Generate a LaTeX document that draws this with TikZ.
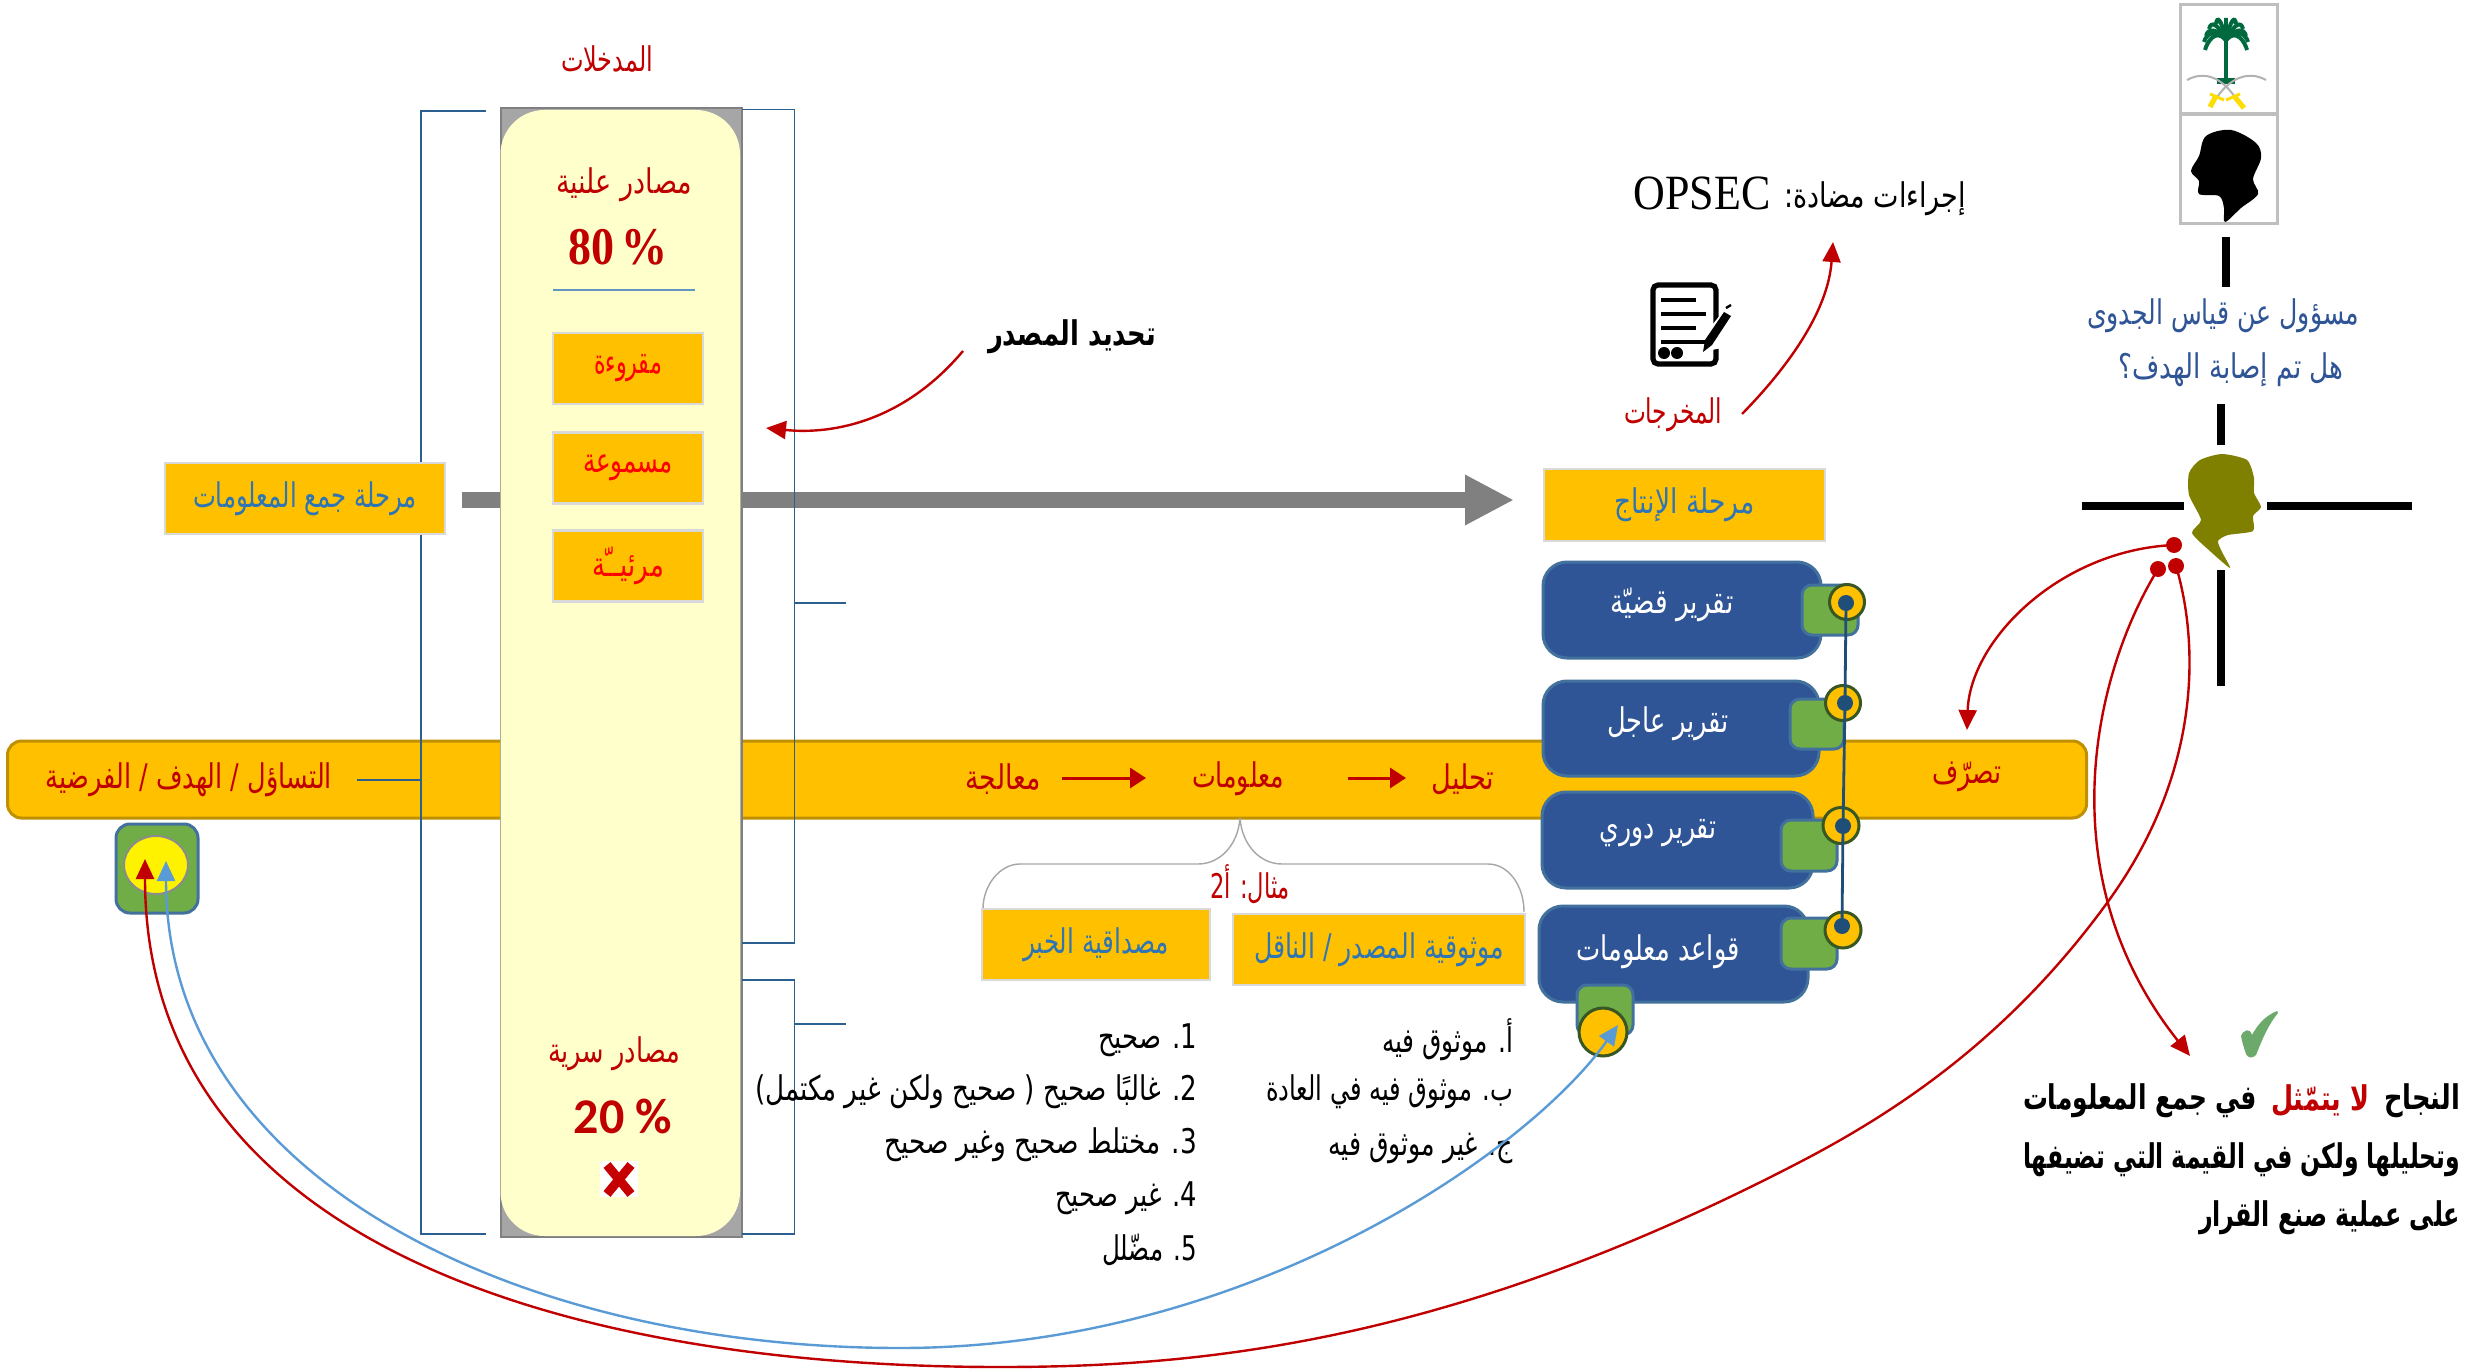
\documentclass[tikz,border=0pt]{standalone}
\usepackage{fontspec}
\usepackage{graphicx}
\usetikzlibrary{arrows.meta,shapes.geometric}
\TeXXeTstate=1
\newfontfamily\arabicfont[Script=Arabic]{DejaVu Sans}
\newfontfamily\timesf{Liberation Serif}
\newfontfamily\carlf{Carlito}
\definecolor{amber}{HTML}{FFC000}
\definecolor{amberedge}{HTML}{BF9000}
\definecolor{dred}{HTML}{C00000}
\definecolor{lblue}{HTML}{2E75B6}
\definecolor{navy}{HTML}{2F5597}
\definecolor{navyedge}{HTML}{41719C}
\definecolor{bracketc}{HTML}{2A5F8F}
\definecolor{dot}{HTML}{1F4E79}
\definecolor{tabg}{HTML}{70AD47}
\definecolor{ringg}{HTML}{385723}
\definecolor{cream}{HTML}{FFFFCC}
\definecolor{skyb}{HTML}{5B9BD5}
\definecolor{palm}{HTML}{00693E}
\definecolor{olivehead}{HTML}{808000}
\definecolor{tick}{HTML}{6BAA6B}
\newsavebox\arbox
\newdimen\artmp
% width in px, font size in pt, text
\newcommand\AR[3]{\begingroup\fontsize{#2}{#2}\arabicfont\sbox\arbox{#3}\artmp=\wd\arbox\pgfmathsetmacro\xsc{#1*0.5/\artmp}\scalebox{\xsc}[1]{\usebox\arbox}\endgroup}
\tikzset{
 sz/.style 2 args={minimum width=#1*0.5pt,minimum height=#2*0.5pt},
 lbl/.style={inner sep=0pt,outer sep=0pt},
 ybox/.style={draw=black!15,line width=1.3pt,fill=amber,inner sep=0pt,outer sep=0pt},
 report/.style={draw=navyedge,line width=1.5pt,fill=navy,rounded corners=12pt,inner sep=0pt},
 tab/.style={draw=navyedge,line width=1.5pt,fill=tabg,rounded corners=5pt,inner sep=0pt},
 ring/.style={circle,draw=ringg,line width=1.5pt,fill=amber,inner sep=0pt,outer sep=0pt},
 hub/.style={circle,fill=dot,inner sep=0pt,minimum size=8pt,outer sep=0pt},
 bracket/.style={draw=bracketc,line width=0.9pt},
 redarrow/.style={draw=dred,line width=1.2pt,-{Triangle[length=10pt,width=9pt]}},
 reddot/.style={circle,fill=dred,inner sep=0pt,minimum size=8pt,outer sep=0pt},
 cross/.style={draw=black,line width=3.8pt},
 picframe/.style={draw=black!25,line width=1.5pt,fill=white,inner sep=0pt},
}
\begin{document}
\begin{tikzpicture}[x=0.5pt,y=-0.5pt]
\useasboundingbox (0,0) rectangle (2479,1369);
\fill[white] (0,0) rectangle (2479,1369);

% band
\node[draw=amberedge,line width=1.5pt,fill=amber,rounded corners=7pt,sz={2079}{77},inner sep=0pt] (band) at (1047,779.5) {};

% gray arrow
\coordinate (gs) at (462,500); \coordinate (ge) at (1514,500);
\draw[draw=black!50,line width=8pt,-{Triangle[length=24.5pt,width=23.5pt]}] (gs) -- (ge);

% column
\node[draw=black!50,line width=1pt,fill=black!35,sz={241}{1128},inner sep=0pt] (colback) at (621,672.5) {};
\fill[cream,rounded corners=22pt] (500.5,110) rectangle (740,1236);

% brackets
\draw[bracket] (486,111) -- (421,111) -- (421,1234) -- (486,1234);
\coordinate (lt1) at (357,780); \coordinate (lt2) at (421,780);
\draw[bracket] (lt1) -- (lt2);
\draw[bracket] (742,109.5) -- (794.5,109.5) -- (794.5,943) -- (742,943);
\coordinate (rt1) at (794.5,603); \coordinate (rt2) at (846,603);
\draw[bracket] (rt1) -- (rt2);
\draw[bracket] (742,980) -- (794.5,980) -- (794.5,1234) -- (742,1234);
\coordinate (rt3) at (794.5,1024); \coordinate (rt4) at (846,1024);
\draw[bracket] (rt3) -- (rt4);

% left stage box
\node[ybox,sz={280}{71},text=lblue] (collect) at (305,498.5) {\AR{224}{17}{\beginR مرحلة جمع المعلومات\endR}};

% column text
\node[lbl,text=dred] (inputs) at (607,59) {\AR{92}{17}{\beginR المدخلات\endR}};
\node[lbl,text=dred] (open) at (624,185) {\AR{136}{17}{\beginR مصادر علنية\endR}};
\node[lbl,text=dred,font=\timesf\bfseries\fontsize{23}{23}\selectfont] (p80) at (618,247) {\scalebox{1}[1.15]{80\,\%}};
\coordinate (u1) at (553,290); \coordinate (u2) at (695,290);
\draw[draw=skyb!80!gray,line width=0.8pt] (u1) -- (u2);
\node[ybox,sz={150}{71},text=red] (read) at (628,368.5) {\raisebox{-3pt}{\AR{68}{17}{\beginR مقروءة\endR}}};
\node[ybox,sz={150}{71},text=red] (heard) at (628,468) {\AR{90}{17}{\beginR مسموعة\endR}};
\node[ybox,sz={150}{71},text=red] (seen) at (628,566) {\AR{72}{17}{\beginR مرئيــّة\endR}};
\node[lbl,text=dred] (secret) at (614,1054) {\AR{132}{17}{\beginR مصادر سرية\endR}};
\node[lbl,text=dred,font=\carlf\bfseries\fontsize{25}{25}\selectfont] (p20) at (623,1116) {20 \%};
\fill[white] (600,1161) rectangle (638,1197);
\draw[draw=dred!90!red,line width=4.5pt] (607,1165) -- (631,1194);
\draw[draw=dred!90!red,line width=4.5pt] (631,1165) -- (607,1194);

% band text
\node[lbl,text=dred] (q) at (189,780) {\AR{286}{17}{\beginR التساؤل / الهدف / الفرضية\endR}};
\node[lbl,text=dred] (proc) at (1003,779) {\AR{75}{17}{\beginR معالجة\endR}};
\node[lbl,text=dred] (info) at (1238,779) {\AR{92}{17}{\beginR معلومات\endR}};
\node[lbl,text=dred] (anal) at (1463,779) {\AR{63}{17}{\beginR تحليل\endR}};
\node[lbl,text=dred] (act) at (1967,777) {\AR{69}{17}{\beginR تصرّف\endR}};
\coordinate (a1s) at (1062,778); \coordinate (a1e) at (1146,778);
\coordinate (a2s) at (1348,778); \coordinate (a2e) at (1406,778);
\draw[draw=dred,line width=1.5pt,-{Triangle[length=8pt,width=10pt]}] (a1s) -- (a1e);
\draw[draw=dred,line width=1.5pt,-{Triangle[length=8pt,width=10pt]}] (a2s) -- (a2e);

% target
\node[draw=navyedge,line width=1.5pt,fill=tabg,rounded corners=7pt,sz={82}{89},inner sep=0pt] (goal) at (157,868.5) {};
\node[ellipse,draw=black!45,line width=1pt,fill=yellow,sz={64}{58},inner sep=0pt] (bull) at (156,865) {};

% brace and lower boxes
\coordinate (bt) at (1240,818);
\coordinate (bl) at (983,909); \coordinate (br) at (1524,912);
\draw[draw=black!35,line width=0.7pt] (bt) .. controls (1238,845) and (1220,864) .. (1198,864) -- (1020,864) .. controls (1000,864) and (983,885) .. (bl);
\draw[draw=black!35,line width=0.7pt] (bt) .. controls (1242,845) and (1260,864) .. (1282,864) -- (1488,864) .. controls (1508,864) and (1524,885) .. (br);
\node[lbl,text=dred] (ex) at (1250,884) {\AR{80}{17}{\beginR مثال: أ\beginL 2\endL\endR}};
\node[ybox,sz={228}{71},text=lblue] (cred) at (1096,944.5) {\AR{146}{17}{\beginR مصداقية الخبر\endR}};
\node[ybox,sz={292}{71},text=lblue] (rel) at (1379,949.5) {\AR{250}{17}{\beginR موثوقية المصدر / الناقل\endR}};

% lists
\node[lbl,anchor=east] (r1) at (1513,1040) {\AR{131}{17}{\beginR أ. موثوق فيه\endR}};
\node[lbl,anchor=east] (r2) at (1513,1092) {\AR{247}{17}{\beginR ب. موثوق فيه في العادة\endR}};
\node[lbl,anchor=east] (r3) at (1513,1148) {\AR{185}{17}{\beginR ج. غير موثوق فيه\endR}};
\node[lbl,anchor=east] (l1) at (1197,1040) {\AR{99}{17}{\beginR\beginL 1\endL. صحيح\endR}};
\node[lbl,anchor=east] (l2) at (1197,1092) {\AR{442}{17}{\beginR\beginL 2\endL. غالبًا صحيح ( صحيح ولكن غير مكتمل)\endR}};
\node[lbl,anchor=east] (l3) at (1197,1145) {\AR{313}{17}{\beginR\beginL 3\endL. مختلط صحيح وغير صحيح\endR}};
\node[lbl,anchor=east] (l4) at (1197,1198) {\AR{142}{17}{\beginR\beginL 4\endL. غير صحيح\endR}};
\node[lbl,anchor=east] (l5) at (1197,1250) {\AR{95}{17}{\beginR\beginL 5\endL. مضّلل\endR}};

% production
\node[ybox,sz={281}{72},text=lblue] (prod) at (1684.5,505) {\AR{140}{17}{\beginR مرحلة الإنتاج\endR}};
\node[lbl,text=dred] (outs) at (1673,415) {\AR{98}{17}{\beginR المخرجات\endR}};
\node[lbl,font=\timesf\fontsize{22}{22}\selectfont] (opsec) at (1702,193) {\scalebox{1}[1.12]{OPSEC}};
\node[lbl] (counter) at (1875,199) {\AR{182}{17}{\beginR إجراءات مضادة:\endR}};
\coordinate (oa) at (1742,414); \coordinate (ob) at (1833,242);
\draw[redarrow] (oa) .. controls (1790,365) and (1828,310) .. (ob);

% document icon
\draw[draw=black,line width=2.6pt,rounded corners=2.5pt,fill=white] (1653,285) rectangle (1716,364);
\foreach \yy/\xe in {300/1696,314/1706,328/1696,342/1706}{\draw[line width=1.8pt] (1661,\yy) -- (\xe,\yy);}
\fill (1664,353) circle (3pt); \fill (1677,353) circle (3pt);
\fill[white] (1712,325) -- (1736,296) -- (1736,345) -- (1712,350) -- cycle;
\fill (1703,352) -- (1705,340) -- (1724,312) -- (1731,316) -- (1712,345) -- cycle;
\draw[line width=1.2pt] (1726,308) -- (1731,305);

% reports
\node[report,sz={278}{96}] (r-a) at (1682,610) {};
\node[report,sz={276}{95}] (r-b) at (1681,728.5) {};
\node[report,sz={271}{96}] (r-c) at (1677.5,840) {};
\node[report,sz={269}{96}] (r-d) at (1673.5,954) {};
\node[lbl,text=white] (rt-a) at (1672,605) {\AR{123}{17}{\beginR تقرير قضيّة\endR}};
\node[lbl,text=white] (rt-b) at (1668,724) {\AR{122}{17}{\beginR تقرير عاجل\endR}};
\node[lbl,text=white] (rt-c) at (1658,833) {\AR{117}{17}{\beginR تقرير دوري\endR}};
\node[lbl,text=white] (rt-d) at (1658,952) {\AR{163}{17}{\beginR قواعد معلومات\endR}};
\node[tab,sz={56}{50}] (t-a) at (1830,610) {};
\node[tab,sz={54}{50}] (t-b) at (1817,724) {};
\node[tab,sz={56}{51}] (t-c) at (1809,845.5) {};
\node[tab,sz={56}{51}] (t-d) at (1809,943.5) {};
\node[tab,sz={56}{50}] (t-e) at (1605,1010) {};
\node[ring,minimum size=17.5pt] (c-a) at (1847,602) {};
\node[ring,minimum size=17.5pt] (c-b) at (1843,703) {};
\node[ring,minimum size=18pt] (c-c) at (1841,825.5) {};
\node[ring,minimum size=18pt] (c-d) at (1843,930) {};
\node[ring,minimum size=24pt] (c-e) at (1603,1032) {};
\node[hub] (h-a) at (1846,603) {};
\node[hub] (h-b) at (1845,703) {};
\node[hub] (h-c) at (1843,826) {};
\node[hub] (h-d) at (1842,926) {};
\draw[draw=dot,line width=1.4pt] (h-a.center) -- (h-b.center) -- (h-c.center) -- (h-d.center);

% source
\node[lbl] (src) at (1072,337) {\AR{168}{17}{\bfseries\beginR تحديد المصدر\endR}};
\coordinate (sa) at (963,351); \coordinate (sb) at (766,428);
\draw[redarrow] (sa) .. controls (905,420) and (835,435) .. (sb);

% pictures top right
\node[picframe,sz={97}{109}] (emblem) at (2228.5,59.5) {};
\node[picframe,sz={97}{109}] (headbox) at (2228.5,169.5) {};
\foreach \dx/\ye in {-21/50,-22/42,-20/36,-17/29,-10/24,0/22,10/24,17/29,20/36,22/42,21/50}{
  \draw[draw=palm,line width=2pt] (2226,40) .. controls ({2226+0.5*\dx},{min(\ye,34)-6}) and ({2226+0.9*\dx},{\ye-8}) .. ({2226+\dx},\ye);}
\draw[draw=palm,line width=1.8pt] (2226,40) -- (2226,80);
\fill[palm] (2217,78) rectangle (2235,84);
\draw[draw=black!30,line width=1pt] (2187,80) .. controls (2205,70) and (2224,78) .. (2238,102);
\draw[draw=black!30,line width=1pt] (2266,80) .. controls (2248,70) and (2228,78) .. (2214,102);
\draw[draw=yellow!80!orange,line width=2.6pt] (2216,96) -- (2210,107);
\draw[draw=yellow!80!orange,line width=2.6pt] (2234,96) -- (2244,108);
\draw[draw=yellow!80!orange,line width=1.5pt] (2210,94) -- (2224,100);
\draw[draw=yellow!80!orange,line width=1.5pt] (2240,94) -- (2226,100);
\fill[black] plot[smooth cycle,tension=0.55] coordinates {(2231,130)(2256,143)(2261,158)(2253,179)(2258,194)(2241,208)(2225,222)(2224,208)(2219,196)(2199,194)(2199,181)(2191,171)(2199,156)(2206,136)};

\coordinate (v1) at (2226,237); \coordinate (v2) at (2226,287);
\draw[draw=black,line width=4pt] (v1) -- (v2);
\node[lbl,text=navy] (who1) at (2223,316) {\AR{272}{17}{\beginR مسؤول عن قياس الجدوى\endR}};
\node[lbl,text=navy] (who2) at (2231,370) {\AR{225}{17}{\beginR هل تم إصابة الهدف؟\endR}};

% crosshair
\coordinate (x1) at (2221,404); \coordinate (x2) at (2221,445);
\coordinate (x3) at (2221,570); \coordinate (x4) at (2221,686);
\coordinate (x5) at (2082,506); \coordinate (x6) at (2184,506);
\coordinate (x7) at (2267,506); \coordinate (x8) at (2412,506);
\draw[cross] (x1) -- (x2); \draw[cross] (x3) -- (x4);
\draw[cross] (x5) -- (x6); \draw[cross] (x7) -- (x8);
\fill[olivehead] plot[smooth cycle,tension=0.4] coordinates {(2222,454)(2247,460)(2254,478)(2254,493)(2261,507)(2253,516)(2253,531)(2228,535)(2218,541)(2222,552)(2230,568)(2211,552)(2192,533)(2201,520)(2189,495)(2189,473)(2200,460)};

% success text
\node[lbl,anchor=east] (ok1a) at (2460,1101) {\AR{76}{17}{\bfseries\beginR النجاح\endR}};
\node[lbl,anchor=east,text=dred] (ok1b) at (2369,1101) {\AR{98}{17}{\bfseries\beginR لا يتمّثل\endR}};
\node[lbl,anchor=east] (ok1c) at (2257,1101) {\AR{234}{17}{\bfseries\beginR في جمع المعلومات\endR}};
\node[lbl,anchor=east] (ok2) at (2460,1160) {\AR{437}{17}{\bfseries\beginR وتحليلها ولكن في القيمة التي تضيفها\endR}};
\node[lbl,anchor=east] (ok3) at (2460,1218) {\AR{261}{17}{\bfseries\beginR على عملية صنع القرار\endR}};
\fill[tick] (2241,1036) .. controls (2244,1029) and (2250,1028) .. (2252,1035) .. controls (2258,1024) and (2265,1016) .. (2277,1011) -- (2278,1013) .. controls (2268,1025) and (2262,1040) .. (2256,1055) .. controls (2252,1059) and (2248,1058) .. (2246,1054) .. controls (2244,1048) and (2242,1042) .. cycle;

% red dots & long arrows
\node[reddot] (d1) at (2174,545) {};
\node[reddot] (d2) at (2158,569) {};
\node[reddot] (d3) at (2176,566) {};
\coordinate (tipact) at (1967,730);
\coordinate (tipok) at (2190,1056);
\coordinate (tipR) at (145,859);
\coordinate (tipB) at (166,861);
\coordinate (tipC) at (1618,1025);
\draw[redarrow] (d1.center) .. controls (2060,550) and (1970,640) .. (tipact);
\draw[redarrow] (d2.center) .. controls (2090,680) and (2050,880) .. (tipok);
\draw[redarrow] (d3.center) .. controls (2198,640) and (2204,770) .. (2107,903) .. controls (2010,1036) and (1900,1110) .. (1800,1162) .. controls (1450,1344) and (1200,1367) .. (1000,1367) .. controls (560,1367) and (145,1240) .. (tipR);
\draw[draw=skyb,line width=1.2pt,{Triangle[length=10pt,width=9pt]}-{Triangle[length=10pt,width=9pt]}] (tipC) .. controls (1530,1150) and (1250,1348) .. (900,1348) .. controls (520,1348) and (166,1180) .. (tipB);
\end{tikzpicture}
\end{document}
